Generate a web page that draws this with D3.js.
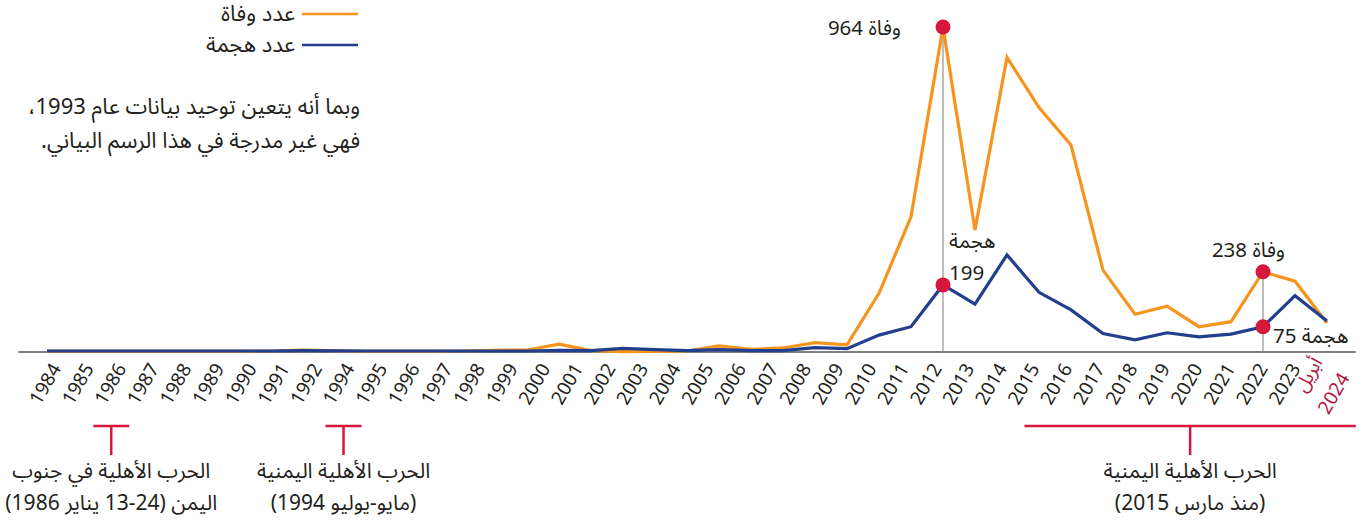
<!DOCTYPE html>
<html>
<head>
<meta charset="utf-8">
<script src="https://cdn.jsdelivr.net/npm/d3@7"></script>
<style>
  body { margin: 0; background: #fff; }
  svg { display: block; }
  text { font-family: "Noto Sans Arabic", "Noto Sans", "DejaVu Sans", sans-serif; fill: #231f20; }
</style>
</head>
<body>
<svg id="chart" width="1367" height="526"></svg>
<script>
// ---------------- DATA ----------------
const years = [1984,1985,1986,1987,1988,1989,1990,1991,1992,
  1994,1995,1996,1997,1998,1999,2000,2001,2002,2003,2004,2005,2006,2007,2008,2009,
  2010,2011,2012,2013,2014,2015,2016,2017,2018,2019,2020,2021,2022,2023,2024];
const tickLabels = years.map(String);
const lastTickLines = ["أبريل", "2024"];
const deaths = [2,2,2,2,2,2,2,3,6,
  2,2,2,3,5,6,23,4,1,2,3,18,8,12,28,21,
  174,401,964,362,874,725,614,243,112,136,75,90,238,210,86];
const attacks = [3,3,3,3,3,3,3,3,4,
  3,3,3,3,3,3,5,4,11,7,4,7,4,4,13,10,
  50,75,199,142,288,177,125,55,36,57,45,53,75,167,92];
const seriesNames = ["عدد وفاة", "عدد هجمة"];
const noteLines = ["وبما أنه يتعين توحيد بيانات عام 1993،", "فهي غير مدرجة في هذا الرسم البياني."];
const highlights = [
  {year: 2012, deaths: 964, attacks: 199},
  {year: 2022, deaths: 238, attacks: 75}
];
const deathWord = "وفاة", attackWord = "هجمة";
const periods = [
  {from: "1986", lines: ["الحرب الأهلية في جنوب", "اليمن (24-13 يناير 1986)"]},
  {from: "1994", lines: ["الحرب الأهلية اليمنية", "(مايو-يوليو 1994)"]},
  {from: "2015", lines: ["الحرب الأهلية اليمنية", "(منذ مارس 2015)"], open: true}
];

// ---------------- STYLE ----------------
const ORANGE = "#f7941e", BLUE = "#213f8c", RED = "#d6173d", DARKRED = "#b0143f";

const svg = d3.select("#chart");
const x = d3.scaleLinear().domain([1984, 2024]).range([47, 1327]);
const y = d3.scaleLinear().domain([0, 964]).range([352, 27]);
const xLab = d3.scalePoint().domain(tickLabels).range([56, 1328]);

// baseline
svg.append("line")
  .attr("x1", x(1983.1)).attr("x2", x(2024.9))
  .attr("y1", y(0)).attr("y2", y(0))
  .attr("stroke", "#58595b").attr("stroke-width", 1.6);

// x tick labels
const axis = svg.append("g");
tickLabels.forEach((t, i) => {
  const g = axis.append("g").attr("transform", `translate(${xLab(t)},365) rotate(-60)`);
  if (i < tickLabels.length - 1) {
    g.append("text").attr("text-anchor", "end").attr("dy", "0.35em")
      .style("font-size", "19px").style("fill", "#231f20").text(t);
  } else {
    g.append("text").attr("text-anchor", "end").attr("dy", "-0.3em")
      .style("font-size", "19px").style("fill", DARKRED).text(lastTickLines[0]);
    g.append("text").attr("text-anchor", "end").attr("dy", "1.35em")
      .style("font-size", "19px").style("fill", DARKRED).text(lastTickLines[1]);
  }
});

// highlight guide lines
highlights.forEach(h => {
  svg.append("line")
    .attr("x1", x(h.year)).attr("x2", x(h.year))
    .attr("y1", y(h.deaths)).attr("y2", y(0))
    .attr("stroke", "#7d7d7d").attr("stroke-width", 1);
});

// lines
const line = arr => d3.line().x((d, i) => x(years[i])).y(d => y(d))(arr);
svg.append("path").attr("d", line(deaths)).attr("fill", "none")
  .attr("stroke", ORANGE).attr("stroke-width", 3.2).attr("stroke-linejoin", "miter");
svg.append("path").attr("d", line(attacks)).attr("fill", "none")
  .attr("stroke", BLUE).attr("stroke-width", 3.2).attr("stroke-linejoin", "miter");

// dots
highlights.forEach(h => {
  [h.deaths, h.attacks].forEach(v => {
    svg.append("circle").attr("cx", x(h.year)).attr("cy", y(v)).attr("r", 7.5).attr("fill", RED);
  });
});

// annotations
const ann = (tx, ty, str, anchor) => svg.append("text")
  .attr("x", tx).attr("y", ty).attr("direction", "rtl")
  .attr("text-anchor", anchor).style("font-size", "20.5px").text(str);
const h0 = highlights[0], h1 = highlights[1];
ann(x(h0.year) - 42, 35, `${deathWord} ${h0.deaths}`, "start");
ann(x(h0.year) + 6, 248, attackWord, "end");
ann(x(h0.year) + 6, 280, `${h0.attacks}`, "end").attr("direction", "ltr").attr("text-anchor", "start");
ann(x(h1.year) + 22, 257, `${deathWord} ${h1.deaths}`, "start");
ann(x(h1.year) + 10, 343, `${attackWord} ${h1.attacks}`, "end");

// legend
const legend = svg.append("g");
[ORANGE, BLUE].forEach((c, i) => {
  const ly = 14 + i * 31;
  legend.append("line").attr("x1", 302).attr("x2", 358).attr("y1", ly).attr("y2", ly)
    .attr("stroke", c).attr("stroke-width", 2.5);
  legend.append("text").attr("x", 295).attr("y", ly + 7).attr("direction", "rtl")
    .attr("text-anchor", "start").style("font-size", "22px").text(seriesNames[i]);
});

// note
noteLines.forEach((s, i) => {
  svg.append("text").attr("x", 360).attr("y", 114 + i * 34).attr("direction", "rtl")
    .attr("text-anchor", "start").style("font-size", "22px").text(s);
});

// period brackets
const axisEnd = x(2024.9);
periods.forEach(p => {
  let x1, x2;
  if (p.open) { x1 = xLab(p.from) - 10; x2 = axisEnd; }
  else { const c = xLab(p.from) - (p.from === "1986" ? 10 : 6); x1 = c - 18; x2 = c + 18; }
  const cx = (x1 + x2) / 2;
  svg.append("line").attr("x1", x1).attr("x2", x2).attr("y1", 426).attr("y2", 426)
    .attr("stroke", RED).attr("stroke-width", 2.5);
  svg.append("line").attr("x1", cx).attr("x2", cx).attr("y1", 426).attr("y2", 455)
    .attr("stroke", RED).attr("stroke-width", 2.5);
  p.lines.forEach((s, i) => {
    svg.append("text").attr("x", cx).attr("y", 478 + i * 32).attr("direction", "rtl")
      .attr("text-anchor", "middle").style("font-size", "21px").text(s);
  });
});
</script>
</body>
</html>
